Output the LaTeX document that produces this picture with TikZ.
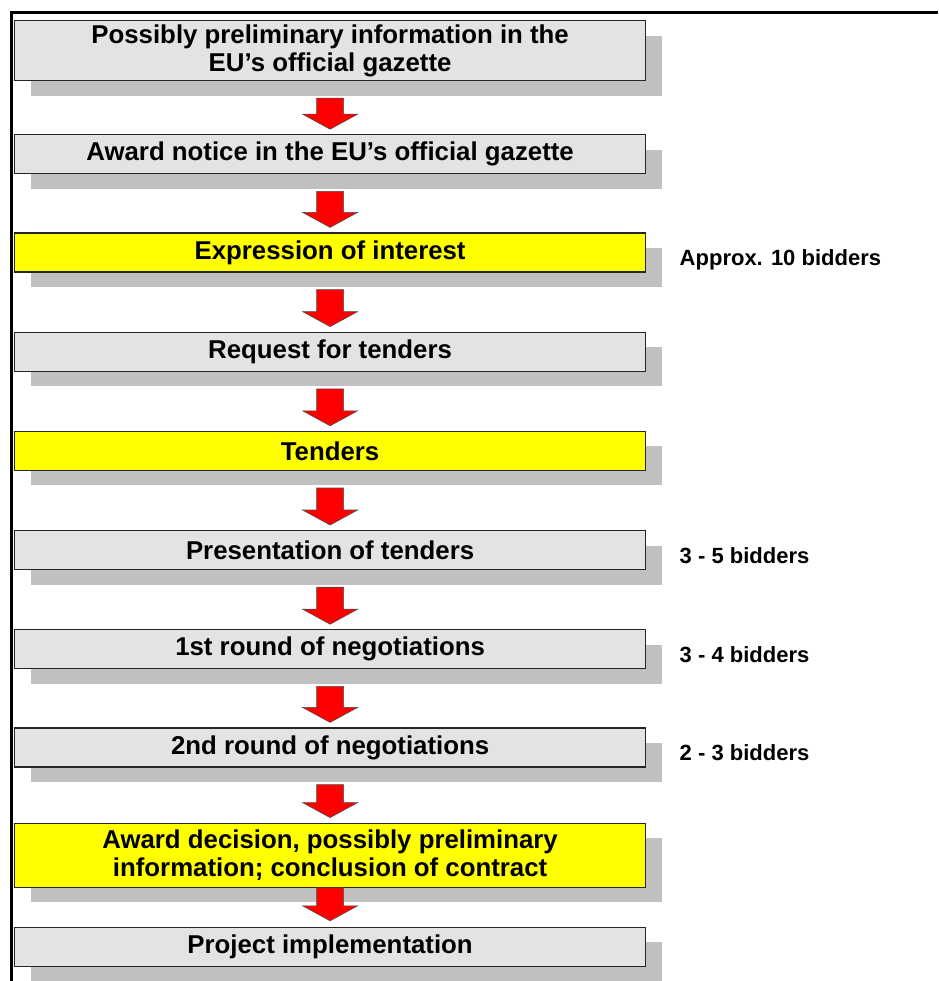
\documentclass[tikz,border=0pt]{standalone}
\usepackage{fontspec}
\setmainfont{Liberation Sans}
\usepackage{tikz}
\usetikzlibrary{positioning, shadows, calc}
\definecolor{boxgray}{HTML}{E3E3E3}
\definecolor{shadegray}{HTML}{C0C0C0}
\definecolor{hiyellow}{HTML}{FFFF00}
\definecolor{arrowred}{HTML}{FF0000}

\begin{document}
\begin{tikzpicture}[x=1pt, y=-1pt,
    main/.style = {draw=black!85, line width=1.2pt, fill=boxgray,
        minimum width=631pt, minimum height=39pt, inner sep=3pt, align=center,
        font=\fontsize{25.8}{28}\selectfont\bfseries,
        drop shadow={shadow xshift=16pt, shadow yshift=-15pt, fill=shadegray, opacity=1}},
    yellowbox/.style = {main, fill=hiyellow},
    side/.style = {anchor=base west, font=\fontsize{22}{26}\selectfont\bfseries},
    flow/.style = {draw=black!70, line width=0.6pt, fill=arrowred,
        to path={let \p1=(\tikztostart), \p2=(\tikztotarget) in
            (\x1-13.5pt,\y1) -- (\x1+13.5pt,\y1) -- (\x1+13.5pt,\y2+15pt) --
            (\x1+27.5pt,\y2+15pt) -- (\x1,\y2) -- (\x1-27.5pt,\y2+15pt) --
            (\x1-13.5pt,\y2+15pt) -- cycle}}]
    \useasboundingbox (0,0) rectangle (938,981);

    % frame
    \draw[line width=3pt] (11.5,981) -- (11.5,12.5) -- (938,12.5);

    % steps
    \node[main, minimum height=60pt, anchor=north west] (b1) at (14,20)
        {Possibly preliminary information in the\\EU’s official gazette};
    \node[main] (b2) [below = 53pt of b1] {Award notice in the EU’s official gazette};
    \node[yellowbox] (b3) [below = 58pt of b2] {Expression of interest};
    \node[main] (b4) [below = 59pt of b3] {Request for tenders};
    \node[yellowbox] (b5) [below = 59pt of b4] {Tenders};
    \node[main] (b6) [below = 59pt of b5] {Presentation of tenders};
    \node[main] (b7) [below = 59pt of b6] {1st round of negotiations};
    \node[main] (b8) [below = 58pt of b7] {2nd round of negotiations};
    \node[yellowbox, minimum height=64pt] (b9) [below = 55pt of b8]
        {Award decision, possibly preliminary\\information; conclusion of contract};
    \node[main] (b10) [below = 39pt of b9] {Project implementation};

    % bidders
    \node[side] (n3) at ([xshift=30pt, yshift=-13pt] b3.east) {Approx. 10 bidders};
    \node[side] (n6) at ([xshift=30pt, yshift=-13pt] b6.east) {3 - 5 bidders};
    \node[side] (n7) at ([xshift=30pt, yshift=-13pt] b7.east) {3 - 4 bidders};
    \node[side] (n8) at ([xshift=30pt, yshift=-13pt] b8.east) {2 - 3 bidders};

    % arrows
    \foreach \i in {1,...,8} {
        \pgfmathtruncatemacro{\j}{\i+1}
        \draw[flow] ([yshift=-17pt] b\i.south) to ([yshift=5pt] b\j.north);
    }
    \draw[flow] (b9.south) to ([yshift=6pt] b10.north);
\end{tikzpicture}
\end{document}
